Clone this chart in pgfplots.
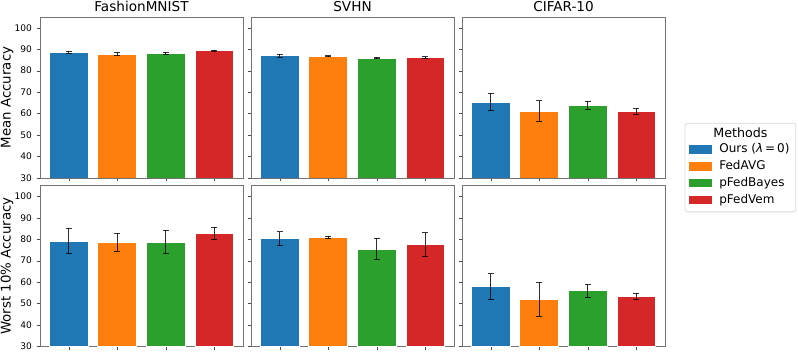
\documentclass[border=0pt]{standalone}
\usepackage{fontspec}
\setmainfont{DejaVu Sans}
\usepackage{pgfplots}
\pgfplotsset{compat=1.18}
\usetikzlibrary{fit}

\definecolor{cblue}{HTML}{1F77B4}
\definecolor{corange}{HTML}{FF7F0E}
\definecolor{cgreen}{HTML}{2CA02C}
\definecolor{cred}{HTML}{D62728}

\pgfplotsset{
  panel/.style={
    scale only axis, width=152.25pt, height=120.75pt,
    anchor=south west,
    xmin=-0.59, xmax=3.59, ymin=30, ymax=105,
    xtick={0,1,2,3}, xticklabels={},
    ytick={30,40,...,100},
    tick align=outside, xtick pos=bottom, ytick pos=left,
    major tick length=2.5pt,
    axis line style={black!55}, tick style={black!70},
    tick label style={font=\fontsize{6.8}{7}\selectfont},
    /pgf/number format/assume math mode=true,
    title style={font=\fontsize{10.2}{12}\selectfont, yshift=-5.5pt},
    ylabel style={font=\fontsize{10}{12}\selectfont},
    ylabel shift=-6pt,
    ybar, bar width=0.8,
    error bars/y dir=both, error bars/y explicit,
    error bars/error bar style={black, line width=0.6pt, opacity=0.8},
    error bars/error mark options={rotate=90, black, mark size=2.2pt, line width=0.6pt},
    legend image code/.code={\draw[##1, draw=none] (0pt,-3.2pt) rectangle (17pt,3.2pt);},
  },
  noylabels/.style={yticklabels={}},
}

% value, error for Ours, FedAVG, pFedBayes, pFedVem
\newcommand{\fourbars}[8]{%
  \addplot[fill=cblue, draw=white, line width=0.5pt, bar shift=0pt] coordinates {(0,#1) +- (0,#2)};
  \addplot[fill=corange, draw=white, line width=0.5pt, bar shift=0pt] coordinates {(1,#3) +- (0,#4)};
  \addplot[fill=cgreen, draw=white, line width=0.5pt, bar shift=0pt] coordinates {(2,#5) +- (0,#6)};
  \addplot[fill=cred, draw=white, line width=0.5pt, bar shift=0pt] coordinates {(3,#7) +- (0,#8)};
}

\begin{document}
\begin{tikzpicture}
\useasboundingbox (0,0) rectangle (598.5pt,267pt);

% top row: mean accuracy
\begin{axis}[panel, at={(30pt,133.5pt)}, title={FashionMNIST}, ylabel={Mean Accuracy}]
\fourbars{88.6}{0.5}{87.8}{0.8}{88.1}{0.4}{89.4}{0.2}
\end{axis}
\begin{axis}[panel, noylabels, at={(188.25pt,133.5pt)}, title={SVHN}]
\fourbars{87.1}{0.7}{86.7}{0.2}{85.9}{0.4}{86.2}{0.3}
\end{axis}
\begin{axis}[panel, noylabels, at={(346.5pt,133.5pt)}, title={CIFAR-10},
  legend cell align=left,
  legend style={name=leg, at={(1.112,0.235)}, anchor=north west, draw=none, fill=none,
    font=\fontsize{9}{10}\selectfont, row sep=1pt, inner sep=1pt,
    nodes={inner sep=1.5pt, text height=6.8pt, text depth=1.8pt}}]
\fourbars{65.4}{4.0}{61.2}{4.9}{63.9}{1.9}{61.0}{1.6}
\legend{\hspace{4pt}Ours (\textit{λ}\,=\,0), \hspace{4pt}FedAVG, \hspace{4pt}pFedBayes, \hspace{4pt}pFedVem}
\end{axis}
\node[anchor=south, font=\fontsize{9.5}{11}\selectfont, inner sep=1pt] (ttl) at ([yshift=1pt]leg.north) {Methods};
\node[draw=black!15, rounded corners=2pt, fit=(leg)(ttl), inner sep=2pt, line width=0.6pt] {};

% bottom row: worst 10% accuracy
\begin{axis}[panel, at={(30pt,7.1pt)}, ylabel={Worst 10\% Accuracy}]
\fourbars{79.2}{6.0}{78.5}{4.2}{78.7}{5.5}{82.9}{2.8}
\end{axis}
\begin{axis}[panel, noylabels, at={(188.25pt,7.1pt)}]
\fourbars{80.2}{3.3}{80.8}{0.6}{75.4}{5.0}{77.5}{5.5}
\end{axis}
\begin{axis}[panel, noylabels, at={(346.5pt,7.1pt)}]
\fourbars{57.9}{6.1}{52.0}{7.9}{56.0}{2.9}{53.4}{1.5}
\end{axis}
\end{tikzpicture}
\end{document}
